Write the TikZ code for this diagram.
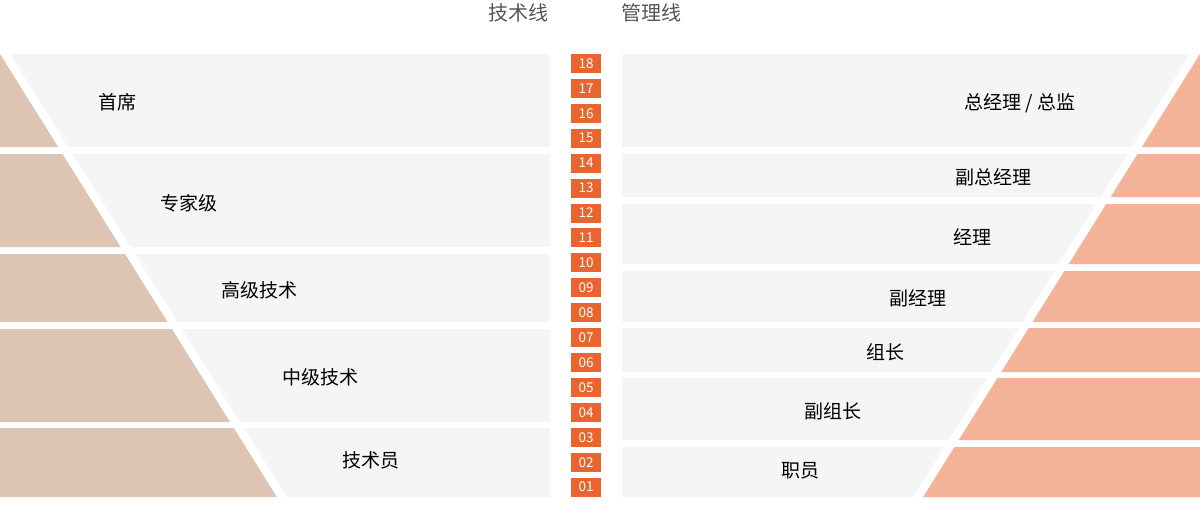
\documentclass[tikz,border=0pt]{standalone}
\usepackage{fontspec}
\setmainfont{Noto Sans CJK SC}
\usepackage{tikz}
\usepackage{xcolor}

\definecolor{panelgray}{HTML}{F5F5F5}
\definecolor{techtan}{HTML}{DEC4B2}
\definecolor{mgmtsalmon}{HTML}{F4B398}
\definecolor{levelorange}{HTML}{E9642E}
\definecolor{headgray}{HTML}{555555}

\tikzset{
  lvlbox/.style={fill=levelorange, text=white, minimum width=30, minimum height=19, inner sep=0pt, font=\fontsize{13.5}{14}\selectfont},
  rowlabel/.style={font=\fontsize{19}{20}\selectfont, text=black, inner sep=0pt},
  headlabel/.style={font=\fontsize{20}{22}\selectfont, text=headgray, inner sep=0pt},
}

\begin{document}
\begin{tikzpicture}[x=1pt, y=-1pt]
    \useasboundingbox (0,0) rectangle (1200,506);
    \node[headlabel] (techhead) at (518,13) {技术线};
    \node[headlabel] (mgmthead) at (651,13) {管理线};
    % technical ladder (left)
    \foreach \t/\b/\lbl/\cx/\cy [count=\i] in {54/147/首席/117.5/102, 154/247/专家级/189/203, 254/322/高级技术/259/290, 329/422/中级技术/320/377, 428/497/技术员/370.5/460} {
        \fill[techtan] (0,\t) -- ({0.625*(\t-54)},\t) -- ({0.625*(\b-54)},\b) -- (0,\b) -- cycle;
        \fill[panelgray] ({0.625*(\t-54)+10},\t) -- (550,\t) -- (550,\b) -- ({0.625*(\b-54)+10},\b) -- cycle;
        \node[rowlabel] (tech\i) at (\cx,\cy) {\lbl};
    }
    % management ladder (right)
    \foreach \t/\b/\lbl/\cx/\cy [count=\i] in {54/147/总经理 \slash\ 总监/1020/103, 154/197/副总经理/993.5/177, 204/264/经理/972/237, 271/322/副经理/918/298, 328/372/组长/885.5/352, 378/440/副组长/833/411, 447/497/职员/800/471} {
        \fill[mgmtsalmon] (1200,\t) -- ({1200-0.625*(\t-54)},\t) -- ({1200-0.625*(\b-54)},\b) -- (1200,\b) -- cycle;
        \fill[panelgray] (622,\t) -- ({1190-0.625*(\t-54)},\t) -- ({1190-0.625*(\b-54)},\b) -- (622,\b) -- cycle;
        \node[rowlabel] (mgmt\i) at (\cx,\cy) {\lbl};
    }
    % level numbers
    \foreach \n [count=\i] in {18,17,16,15,14,13,12,11,10,09,08,07,06,05,04,03,02,01}
        \node[lvlbox] (lv\n) at (586,{63.5+(\i-1)*24.92}) {\n};
\end{tikzpicture}
\end{document}
